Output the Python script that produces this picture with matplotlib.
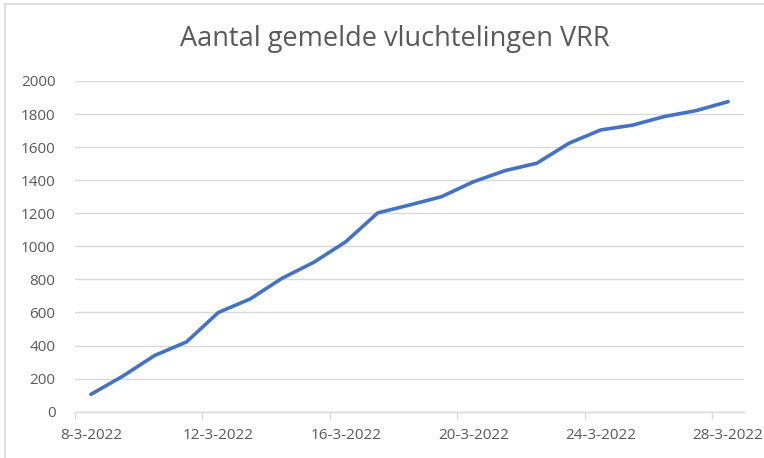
import matplotlib
matplotlib.use('Agg')
import matplotlib.pyplot as plt
from matplotlib.lines import Line2D
from matplotlib.ticker import FixedLocator, NullFormatter
import pandas as pd
import numpy as np

plt.rcParams['font.family'] = ['Open Sans', 'DejaVu Sans']

# Data
dates = ['8-3-2022', '9-3-2022', '10-3-2022', '11-3-2022', '12-3-2022', '13-3-2022',
         '14-3-2022', '15-3-2022', '16-3-2022', '17-3-2022', '18-3-2022', '19-3-2022',
         '20-3-2022', '21-3-2022', '22-3-2022', '23-3-2022', '24-3-2022', '25-3-2022',
         '26-3-2022', '27-3-2022', '28-3-2022']
vluchtelingen = [105, 215, 340, 422, 600, 682, 807, 904, 1028, 1202, 1250,
                 1300, 1390, 1458, 1503, 1623, 1704, 1733, 1785, 1821, 1875]
tick_dates = ['8-3-2022', '12-3-2022', '16-3-2022', '20-3-2022', '24-3-2022', '28-3-2022']

day = pd.to_datetime(dates, format='%d-%m-%Y')
start = day[0]
x = (day - start).days.values + 0.5  # Excel: points in the middle of the day
tick_x = (pd.to_datetime(tick_dates, format='%d-%m-%Y') - start).days.values

text_col = '#595959'
grid_col = '#D9D9D9'

fig = plt.figure(figsize=(7.64, 4.58), dpi=100)
ax = fig.add_axes([75 / 764, 1 - 411.7 / 458, 669 / 764, 330.7 / 458])

ax.plot(x, vluchtelingen, color='#4472C4', linewidth=2.6, solid_capstyle='round',
        solid_joinstyle='round', zorder=3)

ax.set_xlim(0, 21)
ax.set_ylim(0, 2000)
ax.set_yticks(np.arange(0, 2001, 200))
ax.yaxis.grid(True, color=grid_col, linewidth=1)
ax.tick_params(axis='y', length=0, pad=14, labelsize=11, labelcolor=text_col)

# tick marks on day boundaries, labels in the middle of the day
ax.xaxis.set_major_locator(FixedLocator(tick_x))
ax.xaxis.set_major_formatter(NullFormatter())
ax.xaxis.set_minor_locator(FixedLocator(tick_x + 0.5))
ax.set_xticklabels(tick_dates, minor=True)
ax.tick_params(axis='x', which='major', length=5, color=grid_col, width=1)
ax.tick_params(axis='x', which='minor', length=0, pad=12, labelsize=11,
               labelcolor=text_col)

for side in ['top', 'right', 'left']:
    ax.spines[side].set_visible(False)
ax.spines['bottom'].set_color(grid_col)
ax.spines['bottom'].set_linewidth(1)
ax.set_axisbelow(True)

# title is centred on the chart area, not on the plot area
fig.text(394.5 / 764, 1 - 39 / 458, 'Aantal gemelde vluchtelingen VRR', fontsize=19.5,
         color=text_col, ha='center', va='center')

# chart area border (left and top visible)
fig.add_artist(Line2D([4.5 / 764, 4.5 / 764], [0, 1 - 3.5 / 458], color='#D9D9D9',
                      linewidth=1.2, transform=fig.transFigure))
fig.add_artist(Line2D([4.5 / 764, 1], [1 - 3.5 / 458, 1 - 3.5 / 458], color='#D9D9D9',
                      linewidth=1.2, transform=fig.transFigure))

fig.savefig('out.png', dpi=100)
